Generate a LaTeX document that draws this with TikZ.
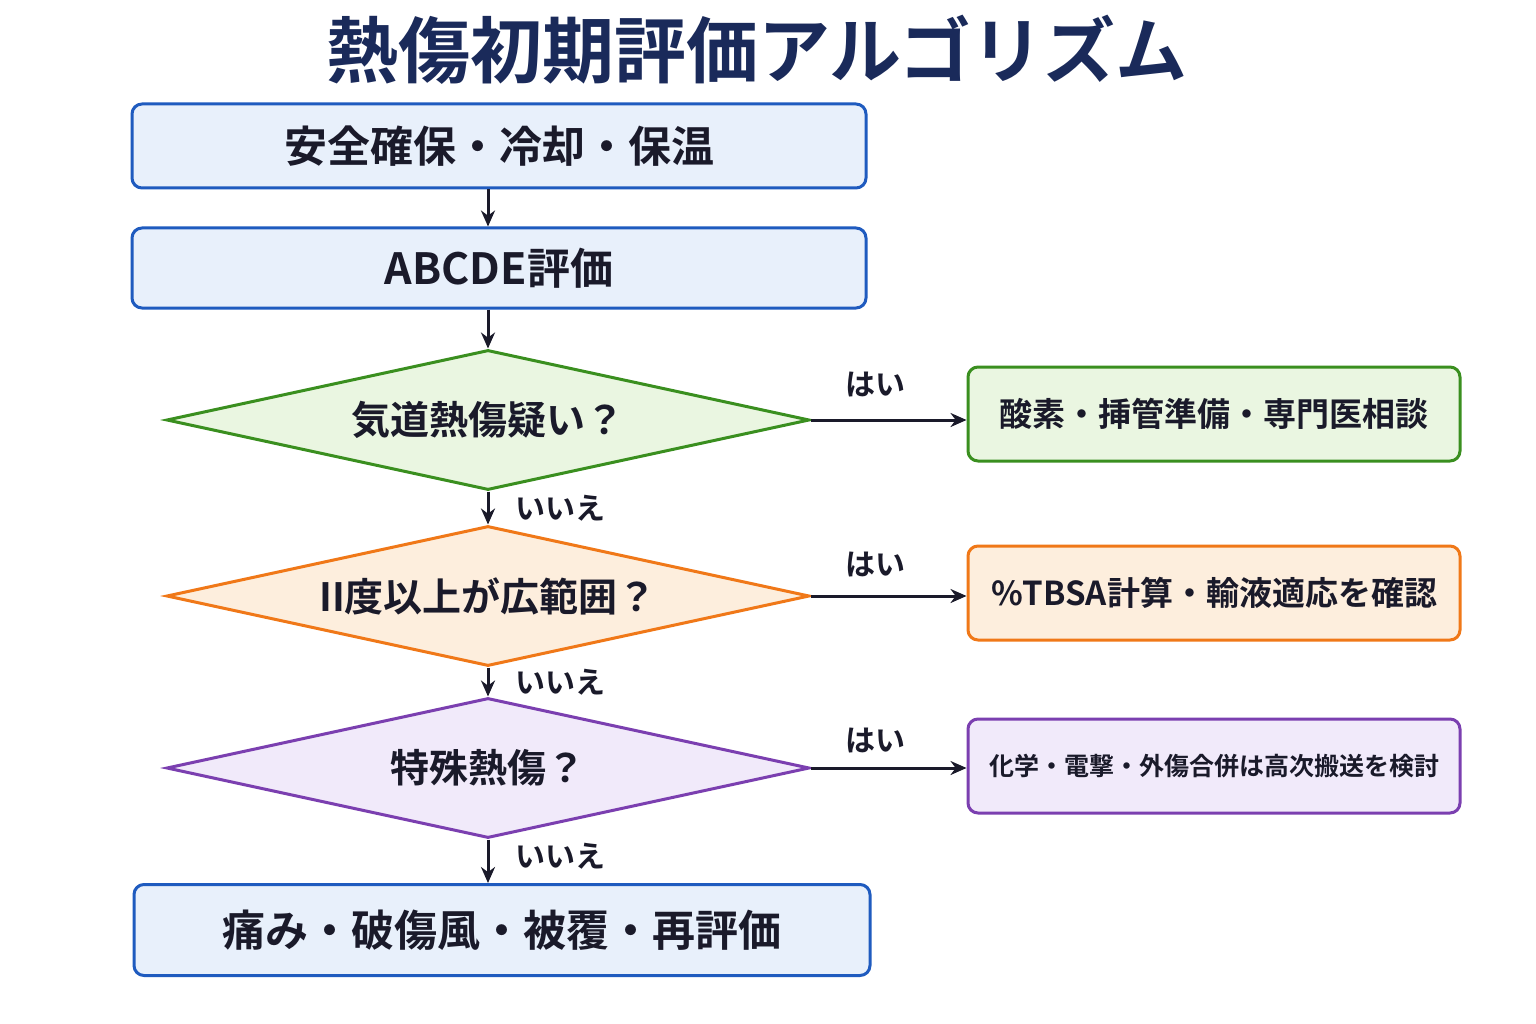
\documentclass[tikz,border=0pt]{standalone}
\usepackage{fontspec}
\setmainfont{Noto Sans CJK JP}[BoldFont={* Bold}]
\newfontfamily\cjkb{Noto Sans CJK JP Bold}
\usetikzlibrary{shapes.geometric,arrows.meta}
\definecolor{navy}{HTML}{1A2A5A}
\definecolor{bblue}{HTML}{1F5BBF}\definecolor{fblue}{HTML}{E8F0FB}
\definecolor{bgreen}{HTML}{3A8F1F}\definecolor{fgreen}{HTML}{EAF6E1}
\definecolor{borange}{HTML}{F07818}\definecolor{forange}{HTML}{FDEEDD}
\definecolor{bpurple}{HTML}{7B3FB0}\definecolor{fpurple}{HTML}{F1EAFA}
\definecolor{ink}{HTML}{1A1A2A}
\begin{document}
\begin{tikzpicture}[x=1pt,y=-1pt,
 box/.style={draw=#1,line width=3pt,rounded corners=10pt,inner sep=0pt,font=\cjkb\fontsize{43}{45}\selectfont,text=ink},
 dia/.style={shape=diamond,draw=#1,line width=3pt,inner sep=0pt,shape aspect=4.3,minimum width=643pt,minimum height=140pt,font=\cjkb\fontsize{39}{41}\selectfont,text=ink},
 arr/.style={draw=ink,line width=3pt,-{Stealth[length=16pt,width=14pt]}},
 lab/.style={font=\cjkb\fontsize{30}{32}\selectfont,text=ink}]
\useasboundingbox (0,0) rectangle (1536,1024);
\fill[white] (0,0) rectangle (1536,1024);
\node[font=\cjkb\fontsize{72}{76}\selectfont,text=navy] (t) at (757,50) {熱傷初期評価アルゴリズム};
\node[box=bblue,fill=fblue,minimum width=734pt,minimum height=84pt] (b1) at (499,146) {安全確保・冷却・保温};
\node[box=bblue,fill=fblue,minimum width=734pt,minimum height=80pt] (b2) at (499,268) {ABCDE評価};
\node[dia=bgreen,fill=fgreen] (d1) at (488,420) {気道熱傷疑い？};
\node[dia=borange,fill=forange] (d2) at (488,596) {II度以上が広範囲？};
\node[dia=bpurple,fill=fpurple] (d3) at (488,768) {特殊熱傷？};
\node[box=bgreen,fill=fgreen,minimum width=492pt,minimum height=94pt,font=\cjkb\fontsize{33}{35}\selectfont] (r1) at (1214,414) {酸素・挿管準備・専門医相談};
\node[box=borange,fill=forange,minimum width=492pt,minimum height=94pt,font=\cjkb\fontsize{33}{35}\selectfont] (r2) at (1214,593) {\%TBSA計算・輸液適応を確認};
\node[box=bpurple,fill=fpurple,minimum width=492pt,minimum height=94pt,font=\cjkb\fontsize{25}{27}\selectfont] (r3) at (1214,766) {化学・電撃・外傷合併は高次搬送を検討};
\node[box=bblue,fill=fblue,minimum width=736pt,minimum height=91pt] (b3) at (502,930) {痛み・破傷風・被覆・再評価};
\draw[arr] (b1.south -| d1.north) -- (b2.north -| d1.north);
\draw[arr] (b2.south -| d1.north) -- (d1.north);
\draw[arr] (d1.south) -- (d2.north);
\draw[arr] (d2.south) -- (d3.north);
\draw[arr] (d3.south) -- (b3.north -| d3.south);
\draw[arr] (d1.east) -- (r1.west |- d1.east);
\draw[arr] (d2.east) -- (r2.west |- d2.east);
\draw[arr] (d3.east) -- (r3.west |- d3.east);
\node[lab] (y1) at (875,385) {はい};
\node[lab] (y2) at (875,565) {はい};
\node[lab] (y3) at (875,740) {はい};
\node[lab] (n1) at (560,508) {いいえ};
\node[lab] (n2) at (560,682) {いいえ};
\node[lab] (n3) at (560,856) {いいえ};
\end{tikzpicture}
\end{document}
